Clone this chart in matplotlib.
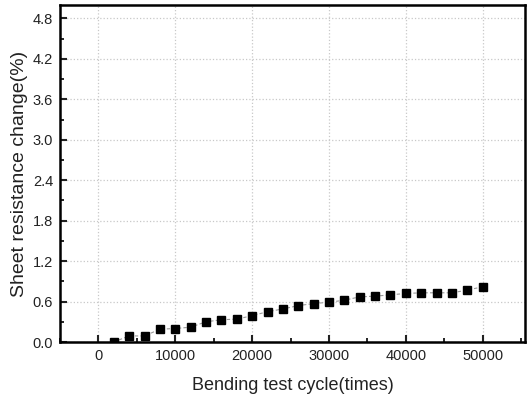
import numpy as np
import matplotlib.pyplot as plt
from matplotlib.ticker import MultipleLocator

plt.rcParams['font.family'] = ['Liberation Sans', 'DejaVu Sans']

# bending cycles and measured sheet resistance change (%)
cycles = [2000, 4000, 6000, 8000, 10000, 12000, 14000, 16000, 18000, 20000,
          22000, 24000, 26000, 28000, 30000, 32000, 34000, 36000, 38000, 40000,
          42000, 44000, 46000, 48000, 50000]
res_change = [0.00, 0.09, 0.09, 0.19, 0.20, 0.22, 0.30, 0.33, 0.34, 0.39,
              0.45, 0.49, 0.54, 0.57, 0.59, 0.62, 0.67, 0.68, 0.70, 0.72,
              0.73, 0.73, 0.73, 0.77, 0.82]
y_ticks = [0.0, 0.6, 1.2, 1.8, 2.4, 3.0, 3.6, 4.2, 4.8]

fig = plt.figure(figsize=(5.31, 3.98), dpi=100)
ax = fig.add_axes([60 / 531, 56 / 398, 465 / 531, 337 / 398])

ax.plot(cycles, res_change, color='#999999', linestyle='--', linewidth=0.8,
        dashes=(3, 2), zorder=2)
ax.plot(cycles, res_change, 's', color='black', markersize=5.6, zorder=3)

ax.set_xlim(-5000, 55500)
ax.set_ylim(0, 5.0)
ax.xaxis.set_major_locator(MultipleLocator(10000))
ax.xaxis.set_minor_locator(MultipleLocator(5000))
ax.yaxis.set_minor_locator(MultipleLocator(0.3))
ax.set_yticks(y_ticks)
ax.set_yticklabels([f"{v:.1f}" for v in y_ticks])

ax.grid(which='major', linestyle=':', color='#c8c8c8', linewidth=0.9)
ax.set_axisbelow(True)
ax.tick_params(which='major', direction='in', length=5, width=1.5,
               labelsize=10.5, colors='#222222', pad=5)
ax.tick_params(which='minor', direction='in', length=3, width=1.2)
ax.tick_params(top=False, right=False)
for sp in ax.spines.values():
    sp.set_linewidth(1.8)

ax.set_xlabel("Bending test cycle(times)", fontsize=13, color='#222222',
              labelpad=10)
ax.set_ylabel("Sheet resistance change(%)", fontsize=14, color='#222222',
              labelpad=3)

fig.savefig("out.png", dpi=100)
